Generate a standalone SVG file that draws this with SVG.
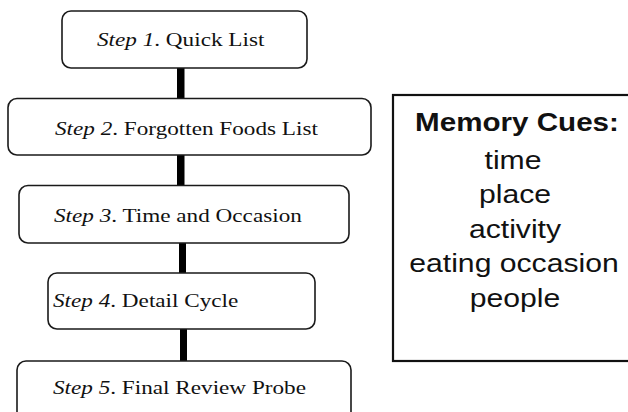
<svg xmlns="http://www.w3.org/2000/svg" width="628" height="412" viewBox="0 0 628 412">
<style>
.box{fill:#fff;stroke:#1a1a1a;stroke-width:1.6}
.cue{fill:#fff;stroke:#111;stroke-width:2.2}
.st{font-family:"Liberation Serif","Times New Roman",serif;font-size:19px;fill:#111}
.it{font-style:italic}
.cu{font-family:"Liberation Sans",Arial,sans-serif;font-size:26px;fill:#111;text-anchor:middle}
.hd{font-weight:bold;font-size:25.5px}
.bar{fill:#000}
</style>
<rect width="628" height="412" fill="#fff"/>
<g id="connectors">
<rect class="bar" x="177" y="68" width="7.5" height="31"/>
<rect class="bar" x="177" y="155" width="7.5" height="31"/>
<rect class="bar" x="179" y="243" width="7" height="31"/>
<rect class="bar" x="180" y="329" width="7" height="33"/>
</g>
<g id="step1">
<rect class="box" x="62" y="11" width="245" height="57" rx="9"/>
<text class="st" transform="translate(97,46) scale(1.22,1)"><tspan class="it">Step 1</tspan>. Quick List</text>
</g>
<g id="step2">
<rect class="box" x="8" y="98.5" width="363" height="56.5" rx="9"/>
<text class="st" transform="translate(55,135) scale(1.22,1)"><tspan class="it">Step 2</tspan>. Forgotten Foods List</text>
</g>
<g id="step3">
<rect class="box" x="19" y="185.5" width="330" height="57.5" rx="9"/>
<text class="st" transform="translate(54,221.7) scale(1.22,1)"><tspan class="it">Step 3</tspan>. Time and Occasion</text>
</g>
<g id="step4">
<rect class="box" x="48" y="273" width="267" height="56" rx="9"/>
<text class="st" transform="translate(53,306.7) scale(1.22,1)"><tspan class="it">Step 4</tspan>. Detail Cycle</text>
</g>
<g id="step5">
<rect class="box" x="17" y="361" width="334" height="70" rx="9"/>
<text class="st" transform="translate(53,394) scale(1.22,1)"><tspan class="it">Step 5</tspan>. Final Review Probe</text>
</g>
<g id="memory-cues">
<rect class="cue" x="393" y="95" width="260" height="266"/>
<text class="cu hd" transform="translate(517,131) scale(1.16,1)">Memory Cues:</text>
<text class="cu" transform="translate(513,169) scale(1.16,1)">time</text>
<text class="cu" transform="translate(515,203) scale(1.16,1)">place</text>
<text class="cu" transform="translate(515,237.5) scale(1.16,1)">activity</text>
<text class="cu" transform="translate(514,272) scale(1.16,1)">eating occasion</text>
<text class="cu" transform="translate(515,306.5) scale(1.16,1)">people</text>
</g>
</svg>
